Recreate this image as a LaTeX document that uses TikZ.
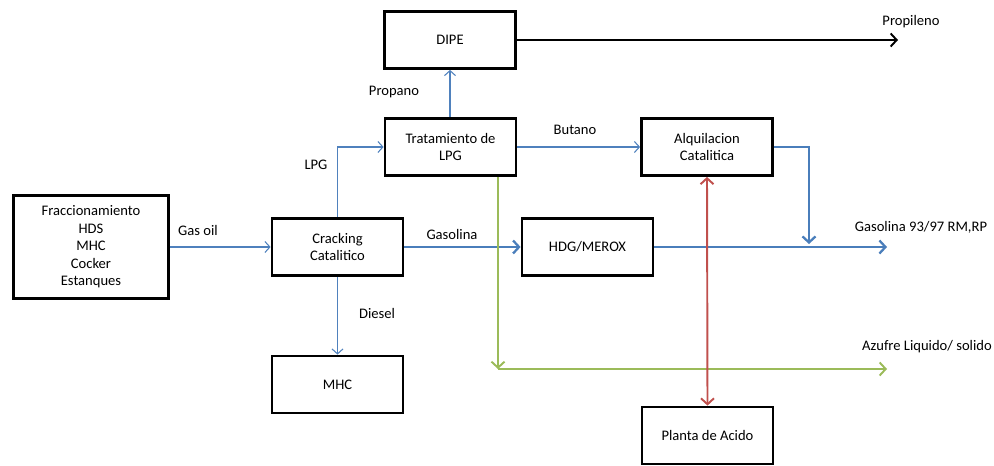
\documentclass[tikz,border=0pt]{standalone}
\usepackage{fontspec}
\setmainfont{Carlito}
\usetikzlibrary{arrows.meta,positioning}
\definecolor{FlowBlue}{HTML}{4F81BD}
\definecolor{MainBlue}{HTML}{4A7EBB}
\definecolor{SulfurGreen}{HTML}{9BBB59}
\definecolor{AcidRed}{HTML}{C0504D}
\newcommand\lblfont{\fontsize{8.3}{10}\selectfont}
\tikzset{
  unit/.style={
    rectangle, draw=black, line width=1.6pt, fill=white,
    minimum width=2.62cm, minimum height=1.14cm, align=center, font=\lblfont
  },
  tag/.style={font=\lblfont, inner sep=1pt},
  flow/.style={-{Straight Barb[length=1mm,width=2.2mm]}, line width=0.6pt, draw=FlowBlue},
  mainflow/.style={-{Straight Barb[length=1.2mm,width=2.6mm]}, line width=1.3pt, draw=MainBlue},
  sulfurflow/.style={-{Straight Barb[length=1.2mm,width=2.6mm]}, line width=1.1pt, draw=SulfurGreen},
  acidflow/.style={{Straight Barb[length=1.2mm,width=2.6mm]}-{Straight Barb[length=1.2mm,width=2.6mm]}, line width=1.1pt, draw=AcidRed},
  productflow/.style={-{Straight Barb[length=1.2mm,width=2.6mm]}, line width=1.1pt, draw=black}
}
\begin{document}
\begin{tikzpicture}[x=0.02cm,y=-0.02cm]
    \useasboundingbox (0,0) rectangle (994,466);
    % process units
    \node[unit,minimum width=3.1cm,minimum height=2.06cm] (frac) at (91,247)
      {Fraccionamiento\\HDS\\MHC\\Cocker\\Estanques};
    \node[unit] (crack) at (337.5,247) {Cracking\\Catalitico};
    \node[unit] (trat) at (450.5,147) {Tratamiento de\\LPG};
    \node[unit] (dipe) at (450,40) {DIPE};
    \node[unit] (alq) at (707,147) {Alquilacion\\Catalitica};
    \node[unit] (hdg) at (587.5,247) {HDG/MEROX};
    \node[unit] (mhc) at (337.5,384.5) {MHC};
    \node[unit] (acido) at (707.5,435.5) {Planta de Acido};
    % free ends
    \coordinate (propEnd) at (898,40);
    \coordinate (gasEnd) at (887,247);
    \coordinate (merge) at (809,147);
    \coordinate (mergeEnd) at (809,244);
    \coordinate (sulfur) at (498,369);
    \coordinate (sulfurEnd) at (887,369);
    % streams
    \draw[flow] (frac.east |- crack) -- (crack);
    \draw[flow] (crack.north) |- (trat.west);
    \draw[flow] (trat.north -| dipe) -- (dipe.south);
    \draw[flow] (trat.east) -- (alq.west);
    \draw[flow] (crack.south) -- (mhc.north);
    \draw[productflow] (dipe.east) -- (propEnd);
    \draw[mainflow] (crack.east) -- (hdg.west);
    \draw[mainflow] (hdg.east) -- (gasEnd);
    \draw[mainflow] (alq.east) -- (merge) -- (mergeEnd);
    \draw[sulfurflow] (trat.south -| sulfur) -- (sulfur);
    \draw[sulfurflow] (sulfur) -- (sulfurEnd);
    \draw[acidflow] (alq.south) -- (acido.north);
    % stream labels
    \node[tag] (gasoilTag) at (198,230) {Gas oil};
    \node[tag] (lpgTag) at (316,165) {LPG};
    \node[tag] (propanoTag) at (394,92) {Propano};
    \node[tag] (butanoTag) at (575,130) {Butano};
    \node[tag] (gasolinaTag) at (452,234) {Gasolina};
    \node[tag] (dieselTag) at (377,313) {Diesel};
    \node[tag] (propTag) at (911,22) {Propileno};
    \node[tag] (gasTag) at (921,227) {Gasolina 93/97 RM,RP};
    \node[tag] (azufreTag) at (927,347) {Azufre Liquido/ solido};
  \end{tikzpicture}
\end{document}
